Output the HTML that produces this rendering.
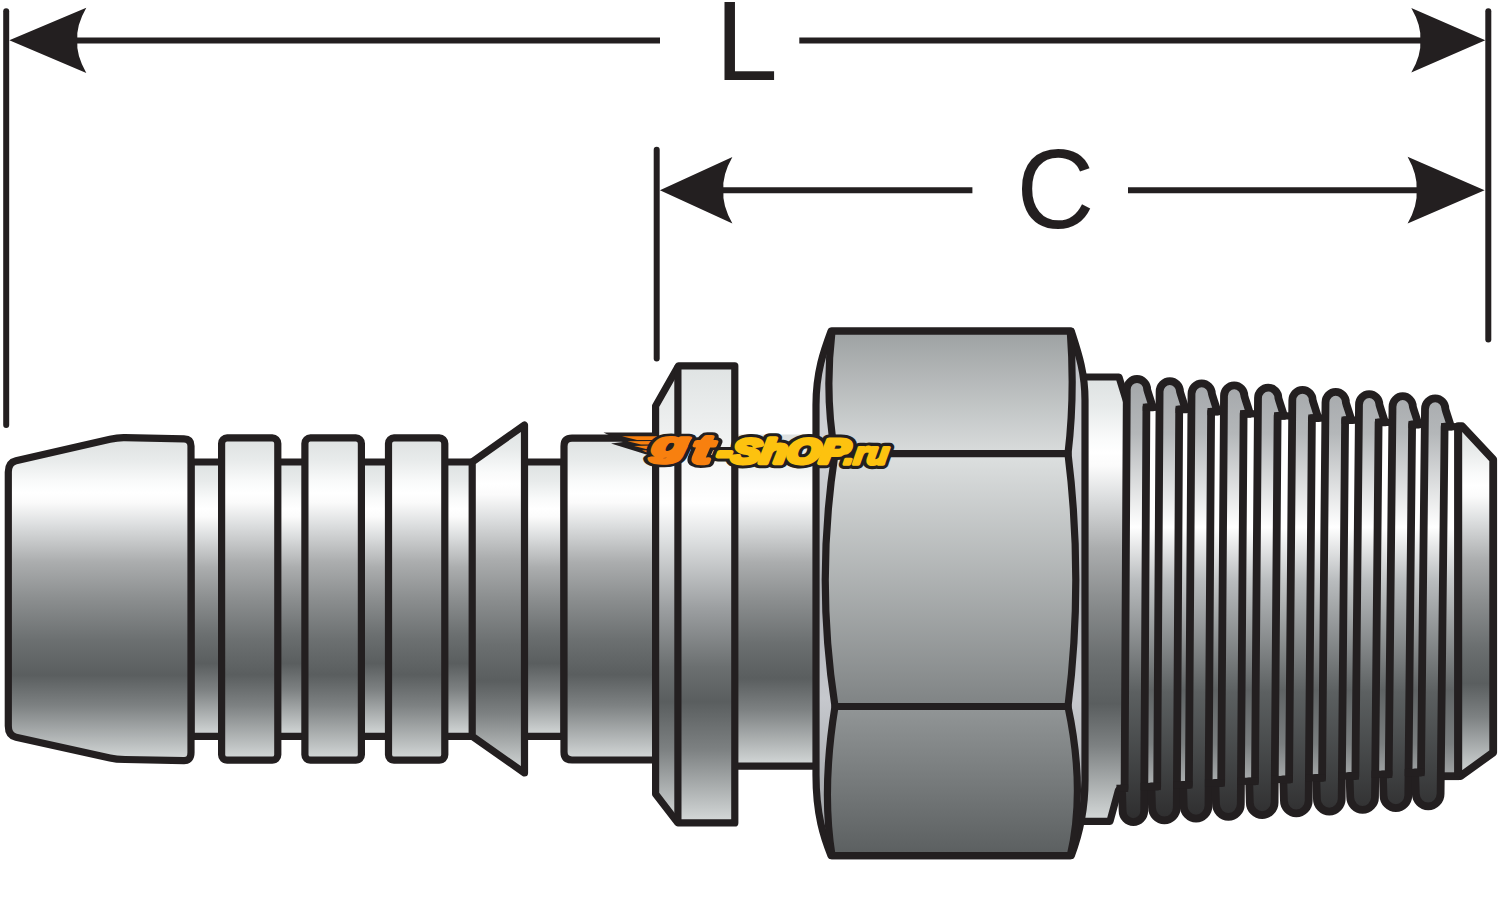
<!DOCTYPE html>
<html lang="ru"><head><meta charset="utf-8"><title>gt-shop.ru</title>
<style>html,body{margin:0;padding:0;background:#fff}body{width:1500px;height:902px;overflow:hidden}svg{display:block}text{font-family:"Liberation Sans",sans-serif}</style></head><body>
<svg width="1500" height="902" viewBox="0 0 1500 902">
<defs>
<linearGradient id="g" x1="0" y1="0" x2="0" y2="1"><stop offset="0" stop-color="#dde1e1"/><stop offset="0.07" stop-color="#e8ebeb"/><stop offset="0.135" stop-color="#f9fafa"/><stop offset="0.17" stop-color="#ffffff"/><stop offset="0.20" stop-color="#fbfbfb"/><stop offset="0.27" stop-color="#dcdedf"/><stop offset="0.385" stop-color="#abadae"/><stop offset="0.5" stop-color="#8b8e8f"/><stop offset="0.63" stop-color="#6b6f70"/><stop offset="0.735" stop-color="#5a5e5f"/><stop offset="0.83" stop-color="#7d8182"/><stop offset="1" stop-color="#d6dada"/></linearGradient>
<linearGradient id="gf" x1="0" y1="0" x2="0" y2="1"><stop offset="0" stop-color="#dfe3e3"/><stop offset="0.12" stop-color="#eceeee"/><stop offset="0.30" stop-color="#ffffff"/><stop offset="0.37" stop-color="#e2e4e5"/><stop offset="0.53" stop-color="#9c9fa1"/><stop offset="0.66" stop-color="#6b6f70"/><stop offset="0.735" stop-color="#5a5e5f"/><stop offset="0.84" stop-color="#7d8182"/><stop offset="1" stop-color="#d6dada"/></linearGradient>
<linearGradient id="ns" x1="0" y1="0" x2="0" y2="1"><stop offset="0" stop-color="#b9bcc1"/><stop offset="0.22" stop-color="#d2d4d8"/><stop offset="0.5" stop-color="#aeb1b6"/><stop offset="0.7" stop-color="#c6c8cd"/><stop offset="0.85" stop-color="#adb0b4"/><stop offset="1" stop-color="#9da0a4"/></linearGradient>
<linearGradient id="n1" x1="0" y1="0" x2="0" y2="1"><stop offset="0" stop-color="#9da1a2"/><stop offset="1" stop-color="#d9dcdc"/></linearGradient>
<linearGradient id="n2" x1="0" y1="0" x2="0" y2="1"><stop offset="0" stop-color="#dde0e0"/><stop offset="1" stop-color="#7f8384"/></linearGradient>
<linearGradient id="n3" x1="0" y1="0" x2="0" y2="1"><stop offset="0" stop-color="#929697"/><stop offset="1" stop-color="#5b5f60"/></linearGradient>
<linearGradient id="tc" gradientUnits="userSpaceOnUse" x1="0" y1="380" x2="0" y2="826"><stop offset="0" stop-color="#a4a7aa"/><stop offset="0.12" stop-color="#b4b7b9"/><stop offset="0.33" stop-color="#ffffff"/><stop offset="0.45" stop-color="#b9bcbe"/><stop offset="0.70" stop-color="#5c6061"/><stop offset="0.86" stop-color="#424445"/><stop offset="1" stop-color="#2c2b2c"/></linearGradient>
<linearGradient id="tr" gradientUnits="userSpaceOnUse" x1="0" y1="405" x2="0" y2="790"><stop offset="0" stop-color="#ffffff"/><stop offset="0.32" stop-color="#ffffff"/><stop offset="0.45" stop-color="#c6c9ca"/><stop offset="0.74" stop-color="#5f6364"/><stop offset="0.88" stop-color="#7a7e7f"/><stop offset="1" stop-color="#b4b7b8"/></linearGradient>
</defs>
<rect width="1500" height="902" fill="#fff"/>
<g stroke="#231f20" stroke-width="6" stroke-linecap="round" fill="none">
<line x1="6.2" y1="11.3" x2="6.2" y2="425"/>
<line x1="1488.3" y1="11.3" x2="1488.3" y2="339.5"/>
<line x1="656.7" y1="149.7" x2="656.7" y2="358.5"/>
</g>
<g stroke="#231f20" stroke-width="6" fill="none">
<line x1="60" y1="40.5" x2="660" y2="40.5"/>
<line x1="799.3" y1="40.5" x2="1440" y2="40.5"/>
<line x1="700" y1="190.3" x2="972.4" y2="190.3"/>
<line x1="1128" y1="190.3" x2="1440" y2="190.3"/>
</g>
<path d="M9.3,40.3 L86.3,7.7 Q76,25.6 77.3,40.3 Q76,55 86.3,72.9 Z" fill="#231f20"/>
<path d="M1485.3,40.3 L1411.3,8 Q1421.6,25.8 1420.3,40.3 Q1421.6,54.8 1411.3,72.6 Z" fill="#231f20"/>
<path d="M659.9,190.2 L732.4,157 Q722,175.3 723.4,190.2 Q722,205.1 732.4,223.4 Z" fill="#231f20"/>
<path d="M1484.6,190.2 L1407.6,156.8 Q1417.9,175.2 1416.6,190.2 Q1417.9,205.2 1407.6,223.6 Z" fill="#231f20"/>
<text x="715.3" y="80" font-size="112.5" fill="#231f20">L</text>
<text transform="translate(1016.6,228.2) scale(0.95,1)" x="0" y="0" font-size="113.5" fill="#231f20">C</text>
<g stroke="#231f20" stroke-width="7.2" stroke-linejoin="round" fill="url(#g)">
<rect x="191" y="462" width="373" height="274.3"/>
<path d="M8.3,472 Q8.3,462.5 16,460.7 L110,439.3 Q117.8,437.5 125,437.7 L184,438.9 Q191,439.1 191,446 L191,752.5 Q191,760.7 184,760.6 L125,759.5 Q116,759.4 110,758 L16,737.3 Q8.3,735.5 8.3,726 Z"/>
<rect x="221.6" y="437.9" width="56.2" height="322.3" rx="5.5" ry="5.5"/>
<rect x="304.9" y="437.9" width="56.5" height="322.3" rx="5.5" ry="5.5"/>
<rect x="388.5" y="437.9" width="56.3" height="322.3" rx="5.5" ry="5.5"/>
<path d="M472.2,462 L524.5,425 L524.5,773 L472.2,736.3 Z"/>
<path d="M660,438.2 L572,438.2 Q564,438.2 564,446.2 L564,752 Q564,760 572,760 L660,760 Z"/>
<rect x="734.8" y="434.5" width="82" height="331.7" stroke="none"/>
<line x1="734.8" y1="766.2" x2="816" y2="766.2"/>
<path d="M655.6,406 L678.5,365.8 L734.8,365.8 L734.8,822.9 L677.8,822.9 L655.6,794 Z" fill="url(#gf)"/>
<line x1="677.9" y1="365.8" x2="677.9" y2="822.9"/>
<path d="M1080,377 L1119,377 L1127,403 L1127,790 L1118.5,790 L1110,821.3 L1080,821.3 Z"/>
</g>
<g stroke="#231f20" stroke-width="7.2" stroke-linejoin="round">
<path d="M831,331.2 L1071.3,331.2 C1078,352 1085,372 1085,400 L1085,780 C1085,815 1078,838 1071.3,855.6 L831,855.6 C824,838 816,815 816,775 L816,405 C816,372 824,350 831,331.2 Z" fill="url(#ns)"/>
<path d="M832,331.2 L1070.3,331.2 Q1075,395 1068,453.7 L835,453.7 Q824.5,395 832,331.2 Z" fill="url(#n1)"/>
<path d="M835,453.7 L1068,453.7 Q1083.6,580 1068,706.5 L835,706.5 Q815.5,580 835,453.7 Z" fill="url(#n2)"/>
<path d="M835,706.5 L1068,706.5 Q1085.6,790 1070.3,855.6 L832,855.6 Q821.5,790 835,706.5 Z" fill="url(#n3)"/>
</g>
<g stroke="#231f20" stroke-width="7.8" stroke-linejoin="round" stroke-linecap="butt">
<path d="M1126.8,407.3 L1146.4,407.3 L1159.6,407.3 L1179.2,409.4 L1191.5,409.4 L1211.1,411.6 L1224,411.6 L1243.6,413.8 L1258,413.8 L1277.6,415.9 L1292.3,415.9 L1311.9,418.1 L1325.5,418.1 L1345.1,420.2 L1359,420.2 L1378.6,422.4 L1392.5,422.4 L1412.1,424.5 L1425,424.5 L1444.6,426.7 L1458.2,426.7 L1458.2,776.2 L1440.6,776.2 L1440.6,772.5 L1408.3,772.5 L1408.3,774.3 L1375,774.3 L1375,776 L1341.7,776 L1341.7,777.8 L1308.7,777.8 L1308.7,779.5 L1274.6,779.5 L1274.6,781.3 L1240.8,781.3 L1240.8,783 L1208.5,783 L1208.5,784.8 L1176.8,784.8 L1176.8,786.5 L1144.2,786.5 L1144.2,788.3 L1124.6,788.3 Z" fill="url(#tr)" stroke="none"/>
<path d="M1458.2,426.2 L1462,426.2 L1493.2,459.5 L1493.2,752.5 L1460.5,776.2 L1458.2,776.2 Z" fill="url(#g)"/>
<path d="M1437,776.2 L1459.2,776.2" fill="none"/>
<path d="M1124.6,788.3 L1126.8,389.5 C1126.8,383.9 1131.4,379 1137,379 C1142.6,379 1147.2,383.9 1147.2,389.5 C1148.2,393.2 1150,398.2 1152.8,407.3 L1146.4,407.3 L1144.2,811 C1144.2,817 1139.4,822.1 1133.4,822.1 C1127.4,822.1 1122.6,817 1122.6,811 C1122.5,807.3 1122.3,802.3 1122,788.3 Z" fill="url(#tc)"/>
<path d="M1142.8,407.3 L1163.2,407.3" fill="none" stroke-width="7.2"/>
<path d="M1116.4,788.3 L1128.2,788.3" fill="none" stroke-width="7.2"/>
<path d="M1157.2,786.5 L1159.6,391.6 C1159.6,386 1164.2,381.1 1169.8,381.1 C1175.4,381.1 1180,386 1180,391.6 C1181,395.3 1182.8,400.3 1185.6,409.4 L1179.2,409.4 L1176.8,807.6 C1176.8,814.5 1171.2,820.4 1164.4,820.4 C1157.6,820.4 1152,814.5 1152,807.6 C1151.9,804 1151.7,799 1151.4,786.5 Z" fill="url(#tc)"/>
<path d="M1175.6,409.4 L1195.1,409.4" fill="none" stroke-width="7.2"/>
<path d="M1140.6,786.5 L1160.8,786.5" fill="none" stroke-width="7.2"/>
<path d="M1188.9,784.8 L1191.5,393.8 C1191.5,388.2 1196.1,383.3 1201.7,383.3 C1207.3,383.3 1211.9,388.2 1211.9,393.8 C1212.9,397.5 1214.7,402.5 1217.5,411.6 L1211.1,411.6 L1208.5,805.9 C1208.5,812.7 1202.9,818.6 1196.1,818.6 C1189.3,818.6 1183.7,812.7 1183.7,805.9 C1183.6,802.2 1183.4,797.2 1183.1,784.8 Z" fill="url(#tc)"/>
<path d="M1207.5,411.6 L1227.6,411.6" fill="none" stroke-width="7.2"/>
<path d="M1173.2,784.8 L1192.5,784.8" fill="none" stroke-width="7.2"/>
<path d="M1221.2,783 L1224,395.9 C1224,390.3 1228.6,385.4 1234.2,385.4 C1239.8,385.4 1244.4,390.3 1244.4,395.9 C1245.4,399.6 1247.2,404.6 1250,413.8 L1243.6,413.8 L1240.8,804.1 C1240.8,811 1235.2,816.9 1228.4,816.9 C1221.6,816.9 1216,811 1216,804.1 C1215.9,800.5 1215.7,795.5 1215.4,783 Z" fill="url(#tc)"/>
<path d="M1240,413.8 L1261.6,413.8" fill="none" stroke-width="7.2"/>
<path d="M1204.9,783 L1224.8,783" fill="none" stroke-width="7.2"/>
<path d="M1255,781.3 L1258,398.1 C1258,392.5 1262.6,387.6 1268.2,387.6 C1273.8,387.6 1278.4,392.5 1278.4,398.1 C1279.4,401.8 1281.2,406.8 1284,415.9 L1277.6,415.9 L1274.6,802.4 C1274.6,809.2 1269,815.1 1262.2,815.1 C1255.4,815.1 1249.8,809.2 1249.8,802.4 C1249.7,798.7 1249.5,793.7 1249.2,781.3 Z" fill="url(#tc)"/>
<path d="M1274,415.9 L1295.9,415.9" fill="none" stroke-width="7.2"/>
<path d="M1237.2,781.3 L1258.6,781.3" fill="none" stroke-width="7.2"/>
<path d="M1289.1,779.5 L1292.3,400.2 C1292.3,394.6 1296.9,389.8 1302.5,389.8 C1308.1,389.8 1312.7,394.6 1312.7,400.2 C1313.7,403.9 1315.5,408.9 1318.3,418.1 L1311.9,418.1 L1308.7,800.6 C1308.7,807.5 1303.1,813.4 1296.3,813.4 C1289.5,813.4 1283.9,807.5 1283.9,800.6 C1283.8,797 1283.6,792 1283.3,779.5 Z" fill="url(#tc)"/>
<path d="M1308.3,418.1 L1329.1,418.1" fill="none" stroke-width="7.2"/>
<path d="M1271,779.5 L1292.7,779.5" fill="none" stroke-width="7.2"/>
<path d="M1322.1,777.8 L1325.5,402.4 C1325.5,396.8 1330.1,391.9 1335.7,391.9 C1341.3,391.9 1345.9,396.8 1345.9,402.4 C1346.9,406.1 1348.7,411.1 1351.5,420.2 L1345.1,420.2 L1341.7,798.9 C1341.7,805.7 1336.1,811.6 1329.3,811.6 C1322.5,811.6 1316.9,805.7 1316.9,798.9 C1316.8,795.2 1316.6,790.2 1316.3,777.8 Z" fill="url(#tc)"/>
<path d="M1341.5,420.2 L1362.6,420.2" fill="none" stroke-width="7.2"/>
<path d="M1305.1,777.8 L1325.7,777.8" fill="none" stroke-width="7.2"/>
<path d="M1355.4,776 L1359,404.6 C1359,398.9 1363.6,394.1 1369.2,394.1 C1374.8,394.1 1379.4,398.9 1379.4,404.6 C1380.4,408.2 1382.2,413.2 1385,422.4 L1378.6,422.4 L1375,797.1 C1375,804 1369.4,809.9 1362.6,809.9 C1355.8,809.9 1350.2,804 1350.2,797.1 C1350.1,793.5 1349.9,788.5 1349.6,776 Z" fill="url(#tc)"/>
<path d="M1375,422.4 L1396.1,422.4" fill="none" stroke-width="7.2"/>
<path d="M1338.1,776 L1359,776" fill="none" stroke-width="7.2"/>
<path d="M1388.7,774.3 L1392.5,406.7 C1392.5,401.1 1397.1,396.2 1402.7,396.2 C1408.3,396.2 1412.9,401.1 1412.9,406.7 C1413.9,410.4 1415.7,415.4 1418.5,424.5 L1412.1,424.5 L1408.3,795.4 C1408.3,802.2 1402.7,808.1 1395.9,808.1 C1389.1,808.1 1383.5,802.2 1383.5,795.4 C1383.4,791.7 1383.2,786.7 1382.9,774.3 Z" fill="url(#tc)"/>
<path d="M1408.5,424.5 L1428.6,424.5" fill="none" stroke-width="7.2"/>
<path d="M1371.4,774.3 L1392.3,774.3" fill="none" stroke-width="7.2"/>
<path d="M1421,772.5 L1425,408.9 C1425,403.2 1429.6,398.4 1435.2,398.4 C1440.8,398.4 1445.4,403.2 1445.4,408.9 C1446.4,412.6 1448.2,417.6 1451,426.7 L1444.6,426.7 L1440.6,793.6 C1440.6,800.5 1435,806.4 1428.2,806.4 C1421.4,806.4 1415.8,800.5 1415.8,793.6 C1415.7,790 1415.5,785 1415.2,772.5 Z" fill="url(#tc)"/>
<path d="M1441,426.7 L1461.8,426.7" fill="none" stroke-width="7.2"/>
<path d="M1404.7,772.5 L1424.6,772.5" fill="none" stroke-width="7.2"/>
<path d="M1458.2,426.7 L1458.2,776.2" fill="none"/>
</g>
<g id="logo">
<path d="M603.5,432.6 L658,432.6 L654,457 L640,452.6 L611,443.6 L623,442 Z" fill="#231f20"/>
<path d="M622,436.2 L657,436.2 L656,440 L637,440 Z M627.5,441.3 L655,441.1 L654,444.6 L641,444.6 Z M634,446 L654,445.6 L653,449 L646,449 Z M642,450.4 L653,450 L652,453 L648.5,453 Z" fill="#f8800f"/>
<g transform="translate(651,456.2) skewX(-8) scale(1.75,1)">
<text x="0" y="0" font-size="34" font-weight="bold" font-style="italic" vector-effect="non-scaling-stroke" fill="#231f20" stroke="#231f20" stroke-width="12.0" stroke-linejoin="round">g</text>
<text x="0" y="0" font-size="34" font-weight="bold" font-style="italic" vector-effect="non-scaling-stroke" fill="#f8800f" stroke="#f8800f" stroke-width="5.0" stroke-linejoin="round">g</text>
</g>
<g transform="translate(690.5,463.2) skewX(-8) scale(1.5,1)">
<text x="0" y="0" font-size="40" font-weight="bold" font-style="italic" vector-effect="non-scaling-stroke" fill="#231f20" stroke="#231f20" stroke-width="12.0" stroke-linejoin="round">t</text>
<text x="0" y="0" font-size="40" font-weight="bold" font-style="italic" vector-effect="non-scaling-stroke" fill="#f8800f" stroke="#f8800f" stroke-width="5.0" stroke-linejoin="round">t</text>
</g>
<g transform="translate(716,463.2) skewX(-8) scale(1.27,1)">
<text x="0" y="0" font-size="34" font-weight="bold" font-style="italic" vector-effect="non-scaling-stroke" fill="#231f20" stroke="#231f20" stroke-width="12.0" stroke-linejoin="round">-ShOP</text>
<text x="0" y="0" font-size="34" font-weight="bold" font-style="italic" vector-effect="non-scaling-stroke" fill="#fdc20f" stroke="#fdc20f" stroke-width="5.0" stroke-linejoin="round">-ShOP</text>
</g>
<g transform="translate(843.5,464.4) skewX(-8) scale(1.1,1)">
<text x="0" y="0" font-size="31" font-weight="bold" font-style="italic" vector-effect="non-scaling-stroke" fill="#231f20" stroke="#231f20" stroke-width="10.4" stroke-linejoin="round">.ru</text>
<text x="0" y="0" font-size="31" font-weight="bold" font-style="italic" vector-effect="non-scaling-stroke" fill="#fdc20f" stroke="#fdc20f" stroke-width="3.6" stroke-linejoin="round">.ru</text>
</g>
</g>
</svg></body></html>
